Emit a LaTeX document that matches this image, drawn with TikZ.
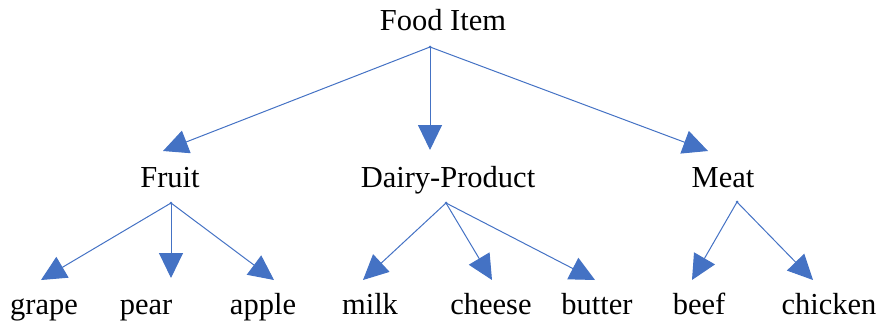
\documentclass[tikz,border=0pt]{standalone}
\usepackage{fontspec}
\setmainfont{Liberation Serif}
\usetikzlibrary{arrows.meta}
\definecolor{arr}{HTML}{4472C4}
\begin{document}
\begin{tikzpicture}[x=1pt,y=-1pt,
  lbl/.style={anchor=base,inner sep=0pt,font=\fontsize{30.5}{36}\selectfont},
  conn/.style={draw=arr,line width=1pt,-{Triangle[length=25pt,width=24pt]}},
  src/.style={fill=arr,circle,inner sep=0pt,minimum size=3pt}]
\useasboundingbox (0,0) rectangle (880,327);
\node[lbl] (food) at (443,30) {Food Item};
\node[lbl] (fruit) at (170,187) {Fruit};
\node[lbl] (dairy) at (448,187) {Dairy-Product};
\node[lbl] (meat) at (723,187) {Meat};
\node[lbl] (grape) at (44,314) {grape};
\node[lbl] (pear) at (146,314) {pear};
\node[lbl] (apple) at (263,314) {apple};
\node[lbl] (milk) at (370,314) {milk};
\node[lbl] (cheese) at (491,314) {cheese};
\node[lbl] (butter) at (597,314) {butter};
\node[lbl] (beef) at (699,314) {beef};
\node[lbl] (chicken) at (829,314) {chicken};
% source / target points
\coordinate (sFood) at (430,47);
\coordinate (tFruit) at (163,151);
\coordinate (tDairy) at (430,150);
\coordinate (tMeat) at (708,151);
\coordinate (sFruit) at (171,203);
\coordinate (sDairy) at (446,203);
\coordinate (sMeat) at (737,202);
\coordinate (tGrape) at (41,280);
\coordinate (tPear) at (171,278);
\coordinate (tApple) at (274,280);
\coordinate (tMilk) at (363,280);
\coordinate (tCheese) at (492,280);
\coordinate (tButter) at (595,280);
\coordinate (tBeef) at (692,280);
\coordinate (tChicken) at (813,280);
\foreach \p in {sFood,sFruit,sDairy,sMeat}{\node[src] at (\p) {};}
\draw[conn] (sFood) -- (tFruit);
\draw[conn] (sFood) -- (tDairy);
\draw[conn] (sFood) -- (tMeat);
\draw[conn] (sFruit) -- (tGrape);
\draw[conn] (sFruit) -- (tPear);
\draw[conn] (sFruit) -- (tApple);
\draw[conn] (sDairy) -- (tMilk);
\draw[conn] (sDairy) -- (tCheese);
\draw[conn] (sDairy) -- (tButter);
\draw[conn] (sMeat) -- (tBeef);
\draw[conn] (sMeat) -- (tChicken);
\end{tikzpicture}
\end{document}
